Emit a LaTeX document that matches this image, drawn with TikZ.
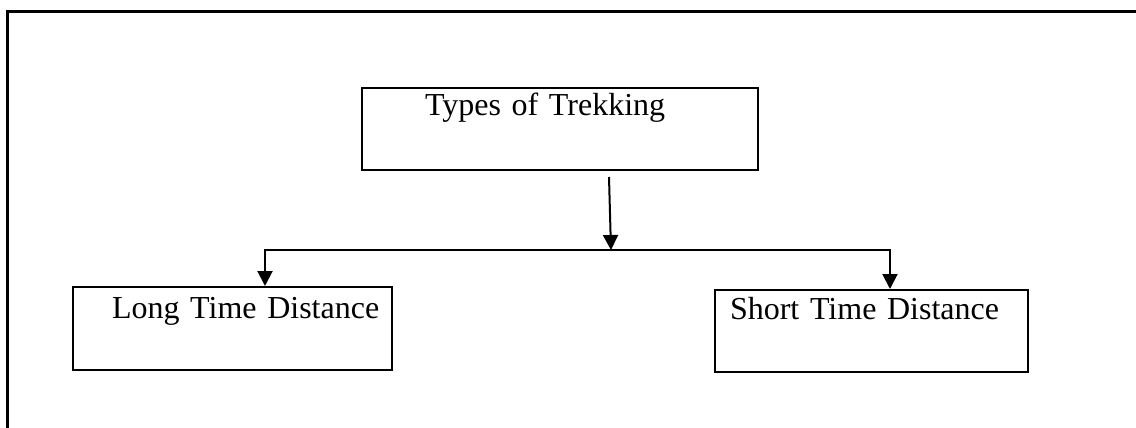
\documentclass[tikz,border=0pt]{standalone}
\usepackage{fontspec}
\setmainfont{Liberation Serif}
\usetikzlibrary{arrows.meta,positioning}
\tikzset{
  trekbox/.style={draw=black, line width=2pt, anchor=north west, inner sep=0pt, align=left, font=\fontsize{32}{38}\selectfont},
  trekarrow/.style={-{Triangle[length=15pt, width=15pt]}, line width=2pt, draw=black},
  frameline/.style={line width=3pt, draw=black},
}

\begin{document}
\begin{tikzpicture}[x=1pt, y=-1pt]
    \useasboundingbox (0,0) rectangle (1136,428);
    \draw[frameline] (7,428) -- (7,12) -- (1136,12);
    \node[trekbox, text width=396pt, text height=28pt, text depth=54pt] (types) at (361,87) {\hspace*{63pt}Types of Trekking};
    \node[trekbox, text width=319pt, text height=31pt, text depth=52pt] (long) at (72,286) {\hspace*{39pt}Long Time Distance};
    \node[trekbox, text width=313pt, text height=29pt, text depth=53pt] (short) at (714,289) {\hspace*{15pt}Short Time Distance};
    \coordinate (drop) at (609,177);
    \coordinate (split) at (611,250);
    \draw[trekarrow] (drop) -- (split);
    \draw[trekarrow] (split) -| ([xshift=32.5pt]long.north);
    \draw[trekarrow] (split) -| ([xshift=18.5pt]short.north);
\end{tikzpicture}
\end{document}
